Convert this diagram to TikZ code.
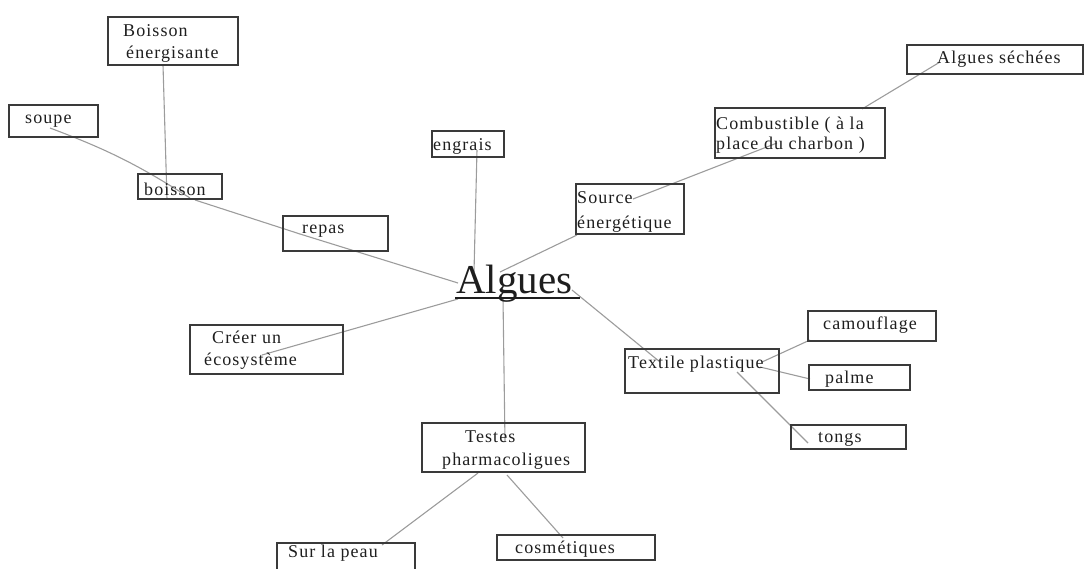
\documentclass[tikz,border=0pt]{standalone}
\usepackage{fontspec}
\setmainfont{Liberation Serif}
\newfontfamily\lblfont{Liberation Serif}[LetterSpace=6]
\usetikzlibrary{fit}
\definecolor{boxgray}{HTML}{3A3A3A}
\definecolor{linkgray}{HTML}{9C9C9C}
\definecolor{txt}{HTML}{1E1E1E}
\tikzset{
  box/.style={draw=boxgray, line width=1.5pt, inner sep=0pt, rectangle},
  lbl/.style={anchor=base west, inner sep=0pt, text=txt, font=\lblfont\fontsize{18}{22}\selectfont},
  link/.style={draw=linkgray, line width=1.1pt},
}
\begin{document}
\begin{tikzpicture}[x=1pt,y=-1pt]
\useasboundingbox (0,0) rectangle (1085,568);
% connector end points
\coordinate (beA) at (163,65);   \coordinate (boA) at (167,199);
\coordinate (soA) at (50,128);   \coordinate (boB) at (190,198);
\coordinate (boC) at (195,200);  \coordinate (reA) at (300,234);
\coordinate (alL) at (458,283);
\coordinate (enA) at (477,150);  \coordinate (alT) at (474,272);
\coordinate (alR) at (500,272);  \coordinate (srA) at (577,235);
\coordinate (srB) at (633,199);  \coordinate (coA) at (777,143);
\coordinate (coB) at (862,109);  \coordinate (asA) at (940,62);
\coordinate (alD) at (458,299);  \coordinate (crA) at (262,355);
\coordinate (alB) at (503,298);  \coordinate (teA) at (505,442);
\coordinate (alE) at (572,290);  \coordinate (txA) at (660,362);
\coordinate (txB) at (762,362);  \coordinate (caA) at (810,340);
\coordinate (txC) at (760,367);  \coordinate (paA) at (810,379);
\coordinate (txD) at (737,372);  \coordinate (toA) at (808,443);
\coordinate (teB) at (478,473);  \coordinate (peA) at (382,545);
\coordinate (teC) at (507,475);  \coordinate (cmA) at (563,538);
% connectors
\draw[link] (beA) -- (boA);
\draw[link] (soA) to[bend left=6] (boB);
\draw[link] (boC) -- (reA);
\draw[link] (reA) -- (alL);
\draw[link] (enA) -- (alT);
\draw[link] (alR) -- (srA);
\draw[link] (srB) -- (coA);
\draw[link] (coB) -- (asA);
\draw[link] (alD) -- (crA);
\draw[link] (alB) -- (teA);
\draw[link] (alE) -- (txA);
\draw[link] (txB) -- (caA);
\draw[link] (txC) -- (paA);
\draw[link] (txD) -- (toA);
\draw[link] (teB) -- (peA);
\draw[link] (teC) -- (cmA);
% boxes
\node[box, fit={(108,17) (238,65)}] (be) {};
\node[box, fit={(9,105) (98,137)}] (soupe) {};
\node[box, fit={(138,174) (222,199)}] (boisson) {};
\node[box, fit={(283,216) (388,251)}] (repas) {};
\node[box, fit={(432,131) (504,157)}] (engrais) {};
\node[box, fit={(576,184) (684,234)}] (source) {};
\node[box, fit={(715,108) (885,158)}] (comb) {};
\node[box, fit={(907,45) (1083,74)}] (seche) {};
\node[box, fit={(190,325) (343,374)}] (creer) {};
\node[box, fit={(625,349) (779,393)}] (textile) {};
\node[box, fit={(808,311) (936,341)}] (camo) {};
\node[box, fit={(809,365) (910,390)}] (palme) {};
\node[box, fit={(791,425) (906,449)}] (tongs) {};
\node[box, fit={(422,423) (585,472)}] (testes) {};
\node[box, fit={(277,543) (415,585)}] (peau) {};
\node[box, fit={(497,535) (655,560)}] (cosm) {};
% texts
\node[lbl] (tbe1) at (123,36) {Boisson};
\node[lbl] (tbe2) at (126,58) {énergisante};
\node[lbl] (tso) at (25,123) {soupe};
\node[lbl] (tbo) at (144,195) {boisson};
\node[lbl] (tre) at (302,233) {repas};
\node[lbl] (ten) at (433,150) {engrais};
\node[lbl] (tsr1) at (577,203) {Source};
\node[lbl] (tsr2) at (577,228) {énergétique};
\node[lbl] (tco1) at (716,129) {Combustible ( à la};
\node[lbl] (tco2) at (716,149) {place du charbon )};
\node[lbl] (tas) at (937,63) {Algues séchées};
\node[lbl] (tcr1) at (212,343) {Créer un};
\node[lbl] (tcr2) at (204,365) {écosystème};
\node[lbl] (ttx) at (628,368) {Textile plastique};
\node[lbl] (tca) at (823,329) {camouflage};
\node[lbl] (tpa) at (825,383) {palme};
\node[lbl] (tto) at (818,442) {tongs};
\node[lbl] (tte1) at (465,442) {Testes};
\node[lbl] (tte2) at (442,465) {pharmacoligues};
\node[lbl] (tpe) at (288,557) {Sur la peau};
\node[lbl] (tcm) at (515,553) {cosmétiques};
% central topic
\node[anchor=base west, inner sep=0pt, text=txt, font=\fontsize{41}{46}\selectfont] (algues) at (456,293) {Algues};
\coordinate (ulA) at (455,298); \coordinate (ulB) at (580,298);
\draw[draw=txt, line width=1.2pt] (ulA) -- (ulB);
\end{tikzpicture}
\end{document}
